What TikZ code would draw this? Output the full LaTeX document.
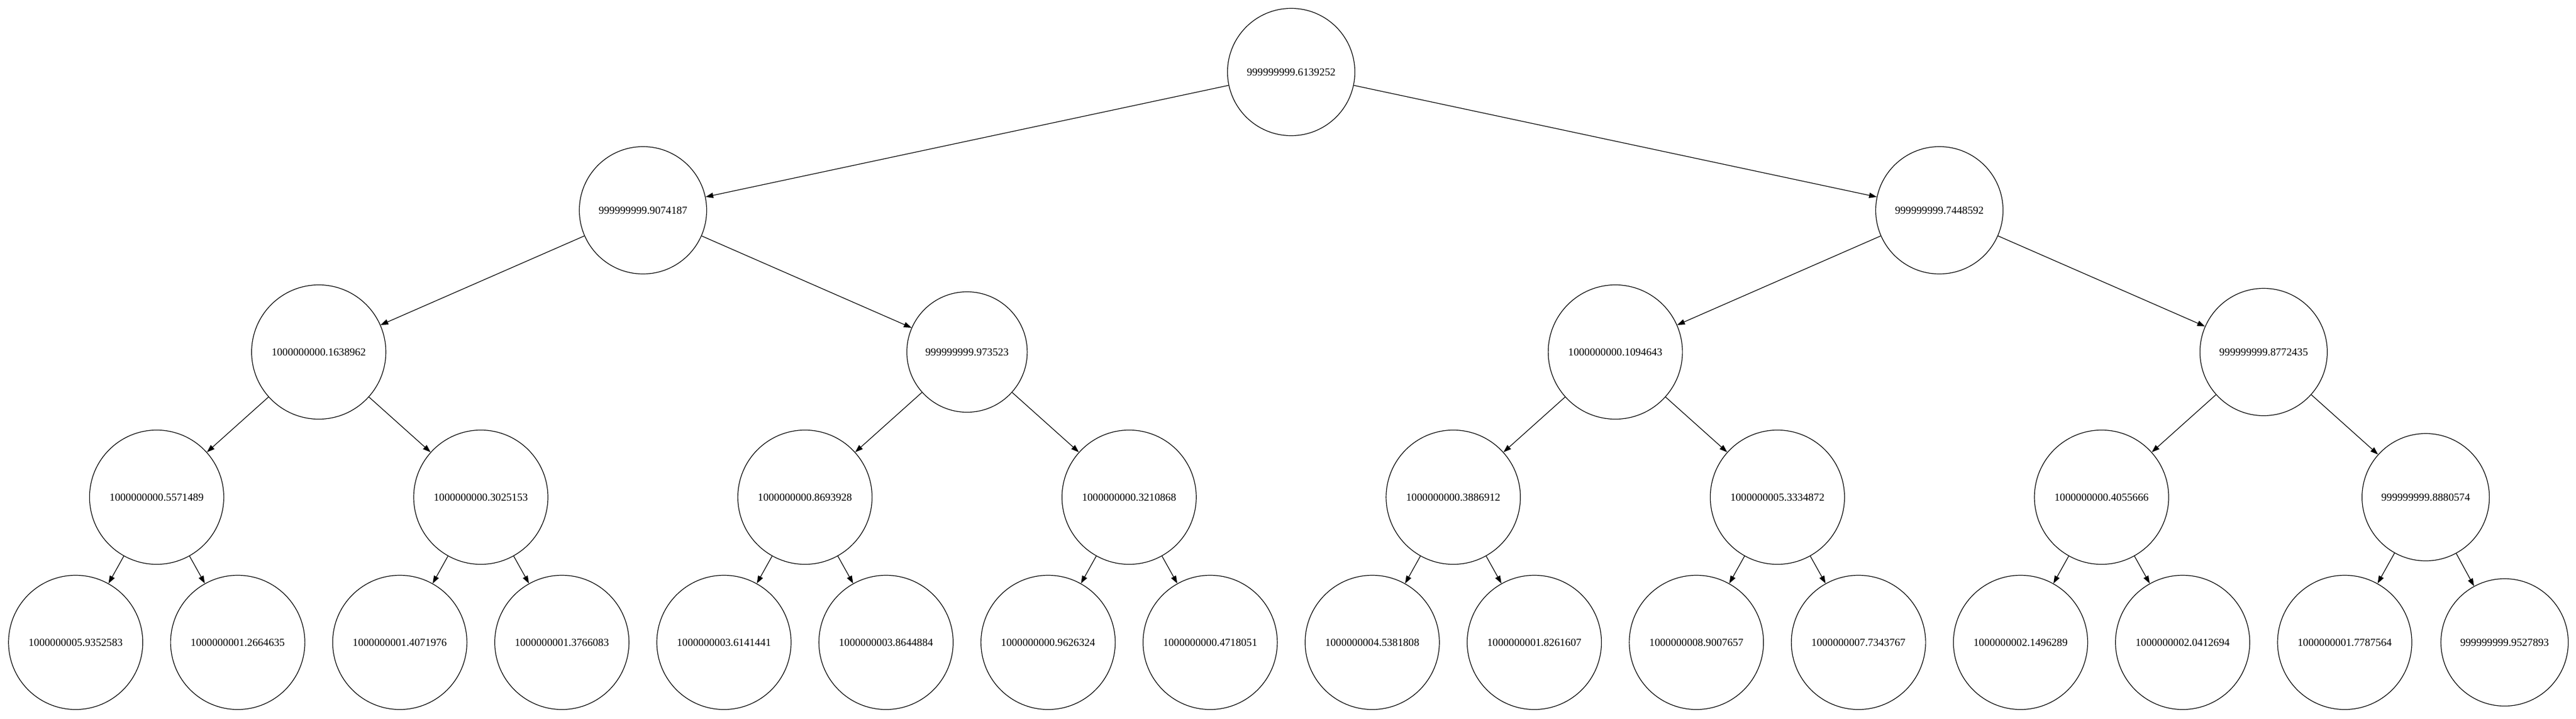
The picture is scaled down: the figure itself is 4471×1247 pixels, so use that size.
\documentclass[tikz,border=0pt]{standalone}
\usepackage{fontspec}
\setmainfont{Liberation Serif}
\usetikzlibrary{arrows.meta}
\begin{document}
\begin{tikzpicture}[x=0.75pt,y=-0.75pt,
  nd/.style={circle,draw,line width=0.9pt,inner sep=0pt,font=\fontsize{14pt}{16pt}\selectfont},
  big/.style={nd,minimum size=174.75pt},
  mid/.style={nd,minimum size=165.75pt},
  sml/.style={nd,minimum size=156.75pt},
  lnk/.style={line width=0.9pt,-{Triangle[length=10pt,width=7pt]}}]
\useasboundingbox[fill=white] (0,0) rectangle (4471,1247);
% root
\node[mid] (n0) at (2241,125) {999999999.6139252};
% level 1
\node[mid] (n1) at (1116,365) {999999999.9074187};
\node[mid] (n2) at (3366,365) {999999999.7448592};
% level 2
\node[big] (n3) at (553.2,611) {1000000000.1638962};
\node[sml] (n4) at (1678.4,611) {999999999.973523};
\node[big] (n5) at (2803.6,611) {1000000000.1094643};
\node[mid] (n6) at (3928.8,611) {999999999.8772435};
% level 3
\node[big] (n7)  at (271.9,863) {1000000000.5571489};
\node[big] (n8)  at (834.5,863) {1000000000.3025153};
\node[big] (n9)  at (1397.1,863) {1000000000.8693928};
\node[big] (n10) at (1959.7,863) {1000000000.3210868};
\node[big] (n11) at (2522.3,863) {1000000000.3886912};
\node[big] (n12) at (3084.9,863) {1000000005.3334872};
\node[big] (n13) at (3647.5,863) {1000000000.4055666};
\node[mid] (n14) at (4210.1,863) {999999999.8880574};
% level 4
\node[big] (n15) at (131.3,1115) {1000000005.9352583};
\node[big] (n16) at (412.6,1115) {1000000001.2664635};
\node[big] (n17) at (693.9,1115) {1000000001.4071976};
\node[big] (n18) at (975.2,1115) {1000000001.3766083};
\node[big] (n19) at (1256.5,1115) {1000000003.6141441};
\node[big] (n20) at (1537.8,1115) {1000000003.8644884};
\node[big] (n21) at (1819.1,1115) {1000000000.9626324};
\node[big] (n22) at (2100.4,1115) {1000000000.4718051};
\node[big] (n23) at (2381.7,1115) {1000000004.5381808};
\node[big] (n24) at (2663.0,1115) {1000000001.8261607};
\node[big] (n25) at (2944.3,1115) {1000000008.9007657};
\node[big] (n26) at (3225.6,1115) {1000000007.7343767};
\node[big] (n27) at (3506.9,1115) {1000000002.1496289};
\node[big] (n28) at (3788.2,1115) {1000000002.0412694};
\node[big] (n29) at (4069.5,1115) {1000000001.7787564};
\node[mid] (n30) at (4347.0,1115) {999999999.9527893};
% edges
\foreach \p/\a/\b in {0/1/2,1/3/4,2/5/6,3/7/8,4/9/10,5/11/12,6/13/14,
  7/15/16,8/17/18,9/19/20,10/21/22,11/23/24,12/25/26,13/27/28,14/29/30}{
  \draw[lnk] (n\p) -- (n\a);
  \draw[lnk] (n\p) -- (n\b);
}
\end{tikzpicture}
\end{document}
